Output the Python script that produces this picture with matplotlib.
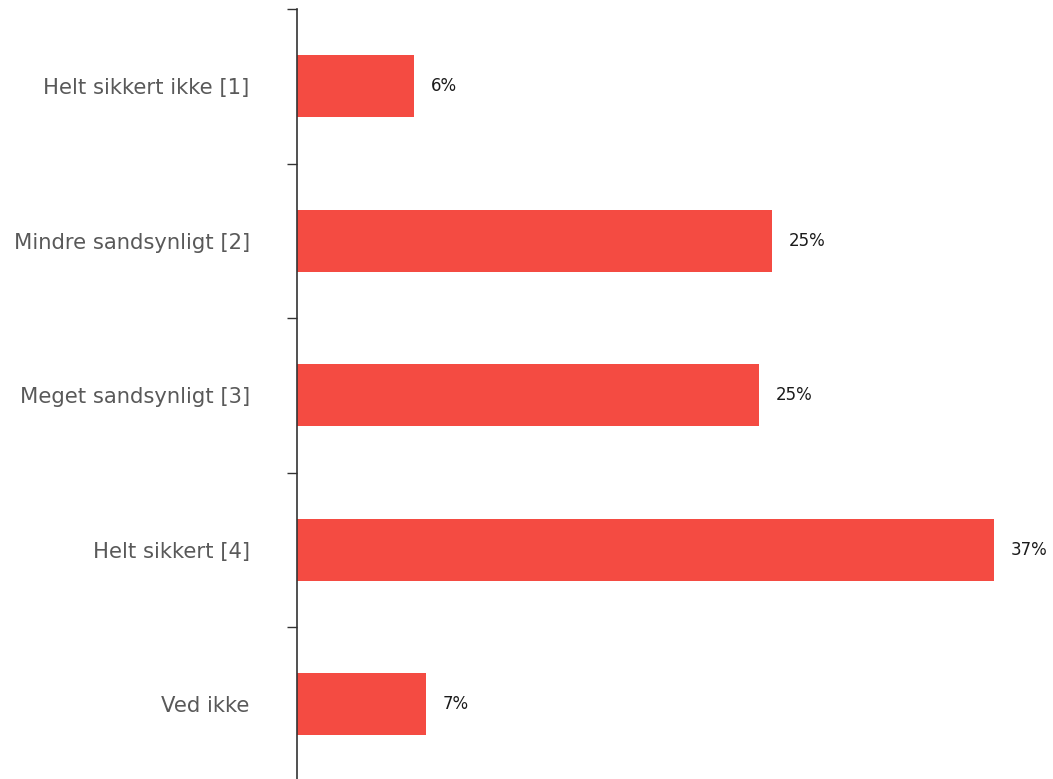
import matplotlib
matplotlib.use("Agg")
import matplotlib.pyplot as plt
import numpy as np

plt.rcParams["font.family"] = ["DejaVu Sans"]

categories = ["Helt sikkert ikke [1]", "Mindre sandsynligt [2]", "Meget sandsynligt [3]",
              "Helt sikkert [4]", "Ved ikke"]
values = [6.2, 25.2, 24.5, 37.0, 6.85]
labels = ["6%", "25%", "25%", "37%", "7%"]

W, H = 1053, 779
fig = plt.figure(figsize=(W / 100, H / 100), dpi=100)
left = 297 / W
px_per_unit = 18.84
xmax = 40
width = xmax * px_per_unit / W
top_px = 9
cat_px = 154.5
height_px = cat_px * len(categories)
bottom = 1 - (top_px + height_px) / H
ax = fig.add_axes([left, bottom, width, height_px / H])

y = np.arange(len(categories))
ax.barh(y, values, height=0.4, color="#F44B42")
ax.set_ylim(len(categories) - 0.5, -0.5)
ax.set_xlim(0, xmax)

for yi, v, lab in zip(y, values, labels):
    ax.text(v + 17 / px_per_unit, yi, lab, va="center", ha="left", fontsize=12, color="#1a1a1a")

ax.set_yticks(y)
ax.set_yticklabels(categories, fontsize=15.2, color="#595959")
ax.tick_params(axis="y", which="major", length=0, pad=34)
ax.set_yticks(np.arange(-0.5, len(categories), 1), minor=True)
ax.tick_params(axis="y", which="minor", length=7, width=1, color="#333333")
ax.set_xticks([])
for s in ["top", "right", "bottom"]:
    ax.spines[s].set_visible(False)
ax.spines["left"].set_color("#333333")
ax.spines["left"].set_linewidth(1.2)

fig.savefig("out.png", dpi=100)
